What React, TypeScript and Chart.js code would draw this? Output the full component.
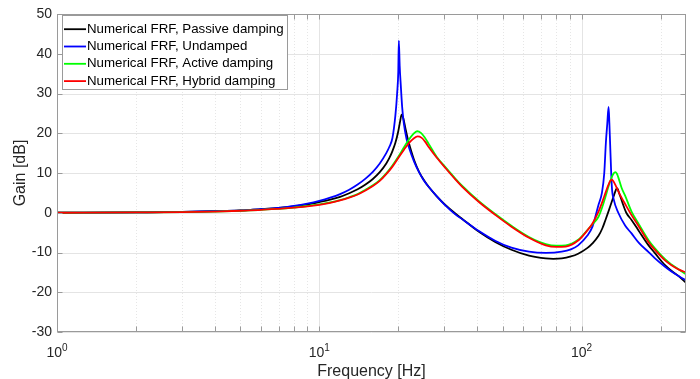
import React, { useEffect, useRef } from 'react';
import { Chart, registerables } from 'chart.js';

Chart.register(...registerables);

const FONT = "'Liberation Sans', Arial, Helvetica, sans-serif";
const TEXT_COLOR = '#262626';
const AXIS_COLOR = '#9a9a9a';

const seriesLabels = [
  'Numerical FRF, Passive damping',
  'Numerical FRF, Undamped',
  'Numerical FRF, Active damping',
  'Numerical FRF, Hybrid damping',
];
const seriesColors = ['#000000', '#0000ff', '#00ff00', '#ff0000'];

const passiveFreq = [1, 2, 3, 4, 5, 6, 7, 8, 9, 10,
  11, 12, 13, 14, 15, 16, 17, 18, 18.5, 19,
  19.5, 20, 20.3, 20.6, 20.9, 21.3, 21.7, 22.2, 23, 24,
  25, 26.2, 28, 30.3, 33, 35, 40.6, 47, 54, 63,
  73, 78, 84, 91, 97, 105, 110, 116, 120, 123,
  127, 130, 133, 135, 136.3, 137.5, 139, 141, 144, 148,
  155, 165, 180, 190, 208, 220, 235, 250];
const passiveGain = [0, 0.1, 0.2, 0.4, 0.6, 0.9, 1.2, 1.6, 2.1, 2.7,
  3.3, 4.0, 4.9, 5.9, 7.1, 8.5, 10.2, 12.4, 13.8, 15.5,
  17.6, 20.5, 22.8, 24.7, 23.8, 21.2, 18.8, 16.4, 13.2, 10.3,
  8.3, 6.4, 4.2, 1.9, -0.2, -1.5, -4.8, -7.4, -9.3, -10.8,
  -11.5, -11.6, -11.5, -11.0, -10.3, -8.9, -7.7, -5.8, -3.9, -2.0,
  0.6, 2.6, 4.5, 5.7, 6.2, 5.9, 4.9, 3.8, 2.0, 0.0,
  -1.8, -4.5, -8.2, -10.1, -13.2, -14.6, -16.0, -17.6];

const undampedFreq = [1, 2, 3, 4, 5, 6, 7, 8, 9, 10,
  11, 12, 13, 14, 15, 16, 17, 18, 18.5, 19,
  19.5, 19.8, 20.0, 20.1, 20.25, 20.45, 20.7, 21, 21.5, 22,
  23, 24, 25, 26.2, 28, 30.3, 33, 35, 40.6, 47,
  54, 63, 73, 84, 91, 97, 105, 110, 116, 119.5,
  122, 123.7, 125.3, 126.7, 127.6, 128.5, 130.4, 132.6, 138, 146.5,
  155, 165, 180, 190, 208, 220, 235, 250];
const undampedGain = [0, 0.1, 0.2, 0.4, 0.6, 0.9, 1.2, 1.7, 2.3, 3.0,
  3.8, 4.7, 5.8, 7.1, 8.6, 10.3, 12.4, 15.0, 16.6, 18.8,
  24.5, 30, 35.5, 43.3, 37, 32, 26.5, 22.5, 18.6, 16.3,
  12.8, 10.2, 8.2, 6.4, 4.2, 1.8, -0.4, -1.6, -4.6, -7.1,
  -8.8, -9.8, -10.1, -9.8, -9.2, -8.2, -5.8, -3.5, 2.0, 5.0,
  10, 17.5, 22.5, 26.6, 22.5, 17, 6.5, 3.3, 0.0, -3.2,
  -5.2, -7.5, -9.9, -11.4, -13.6, -14.8, -16.0, -17.0];

const activeFreq = [1, 2, 3, 4, 5, 6, 7, 8, 9, 10,
  11, 12, 13, 14, 15, 16, 17, 18, 19, 20,
  21, 22, 22.8, 23.6, 24.4, 25.2, 26.2, 28, 30.3, 33,
  35, 40.6, 47, 54, 63, 73, 80, 87, 97, 105,
  110, 116, 120, 123, 127, 130, 132.5, 134.4, 136.3, 138,
  142, 146.5, 155, 165, 180, 190, 208, 220, 235, 250];
const activeGain = [0, 0.1, 0.15, 0.3, 0.5, 0.7, 1.0, 1.3, 1.7, 2.1,
  2.6, 3.2, 3.9, 4.7, 5.8, 6.9, 8.2, 9.9, 11.9, 14.1,
  16.4, 18.5, 19.8, 20.5, 20.1, 19.0, 17.2, 14.1, 11.4, 8.6,
  6.8, 2.9, -0.4, -3.3, -6.1, -7.9, -8.3, -8.2, -6.8, -4.4,
  -2.9, -1.0, 1.5, 3.8, 6.9, 8.8, 9.9, 10.2, 9.8, 8.9,
  6.3, 4.3, 0.3, -2.8, -6.9, -8.9, -11.7, -13.0, -14.3, -15.5];

const hybridFreq = [1, 2, 3, 4, 5, 6, 7, 8, 9, 10,
  11, 12, 13, 14, 15, 16, 17, 18, 19, 20,
  21, 22, 22.9, 23.7, 24.5, 25.3, 26.2, 28, 30.3, 33,
  35, 40.6, 47, 54, 63, 73, 80, 87, 97, 105,
  110, 116, 120, 123, 126.5, 128.5, 130.3, 132, 134, 138,
  142, 146.5, 155, 165, 180, 190, 208, 220, 235, 250];
const hybridGain = [0, 0.1, 0.15, 0.3, 0.5, 0.7, 1.0, 1.3, 1.6, 2.0,
  2.5, 3.1, 3.8, 4.6, 5.6, 6.7, 8.0, 9.7, 11.6, 13.8,
  15.8, 17.6, 18.7, 19.2, 18.9, 17.9, 16.4, 13.9, 11.2, 8.4,
  6.6, 2.7, -0.6, -3.5, -6.3, -8.2, -8.6, -8.5, -7.0, -4.5,
  -2.7, 0.3, 2.8, 4.8, 7.0, 8.0, 8.3, 8.0, 7.2, 5.4,
  3.8, 2.2, -0.6, -3.4, -7.4, -9.3, -12.0, -13.2, -14.3, -15.0];

const yTicks = [-30, -20, -10, 0, 10, 20, 30, 40, 50];
const xDecades = [1, 10, 100];
const xMinor = [2, 3, 4, 5, 6, 7, 8, 9, 20, 30, 40, 50, 60, 70, 80, 90, 200];

const matlabAxes = {
  id: 'matlabAxes',
  beforeDatasetsDraw(chart: any) {
    const { ctx, chartArea: a } = chart;
    const xs = chart.scales.x;
    const ys = chart.scales.y;
    ctx.save();
    ctx.lineWidth = 1;
    ctx.strokeStyle = '#e6e6e6';
    ctx.setLineDash([1, 2]);
    ctx.beginPath();
    for (const v of xMinor) {
      const p = Math.round(xs.getPixelForValue(v)) + 0.5;
      ctx.moveTo(p, a.top);
      ctx.lineTo(p, a.bottom);
    }
    ctx.stroke();
    ctx.setLineDash([]);
    ctx.strokeStyle = '#e4e4e4';
    ctx.beginPath();
    for (const v of xDecades) {
      const p = Math.round(xs.getPixelForValue(v)) + 0.5;
      ctx.moveTo(p, a.top);
      ctx.lineTo(p, a.bottom);
    }
    for (const v of yTicks) {
      const p = Math.round(ys.getPixelForValue(v)) + 0.5;
      ctx.moveTo(a.left, p);
      ctx.lineTo(a.right, p);
    }
    ctx.stroke();
    ctx.restore();
  },
  afterDatasetsDraw(chart: any) {
    const { ctx, chartArea: a } = chart;
    const xs = chart.scales.x;
    const ys = chart.scales.y;
    const L = Math.round(a.left) + 0.5;
    const R = Math.round(a.right) - 0.5;
    const T = Math.round(a.top) + 0.5;
    const B = Math.round(a.bottom) - 0.5;
    ctx.save();
    ctx.lineWidth = 1;
    ctx.strokeStyle = AXIS_COLOR;
    ctx.strokeRect(L, T, R - L, B - T);
    const tl = 5;
    ctx.beginPath();
    for (const v of yTicks) {
      const p = Math.round(ys.getPixelForValue(v)) + 0.5;
      ctx.moveTo(L, p); ctx.lineTo(L + tl, p);
      ctx.moveTo(R, p); ctx.lineTo(R - tl, p);
    }
    for (const v of [...xDecades, ...xMinor]) {
      const p = Math.round(xs.getPixelForValue(v)) + 0.5;
      ctx.moveTo(p, B); ctx.lineTo(p, B - tl);
      ctx.moveTo(p, T); ctx.lineTo(p, T + tl);
    }
    ctx.stroke();

    // x tick labels with superscript exponents
    ctx.fillStyle = TEXT_COLOR;
    ctx.textAlign = 'left';
    ctx.textBaseline = 'alphabetic';
    for (const v of xDecades) {
      const e = String(Math.round(Math.log10(v)));
      ctx.font = `14px ${FONT}`;
      const wb = ctx.measureText('10').width;
      ctx.font = `10px ${FONT}`;
      const we = ctx.measureText(e).width;
      const cx = xs.getPixelForValue(v);
      const x0 = cx - (wb + we) / 2;
      ctx.font = `14px ${FONT}`;
      ctx.fillText('10', x0, a.bottom + 25);
      ctx.font = `10px ${FONT}`;
      ctx.fillText(e, x0 + wb, a.bottom + 19);
    }

    // legend
    const bx = Math.round(a.left) + 5.5;
    const by = Math.round(a.top) + 1.5;
    const bw = 225;
    const bh = 74;
    ctx.fillStyle = '#ffffff';
    ctx.fillRect(bx, by, bw, bh);
    ctx.strokeStyle = AXIS_COLOR;
    ctx.lineWidth = 1;
    ctx.strokeRect(bx, by, bw, bh);
    ctx.font = `13.3px ${FONT}`;
    ctx.textBaseline = 'middle';
    chart.data.datasets.forEach((ds: any, i: number) => {
      const y = a.top + 15.2 + i * 17.3;
      ctx.strokeStyle = ds.borderColor;
      ctx.lineWidth = 1.8;
      ctx.beginPath();
      ctx.moveTo(a.left + 7, y);
      ctx.lineTo(a.left + 29, y);
      ctx.stroke();
      ctx.fillStyle = '#000000';
      ctx.fillText(ds.label, a.left + 30, y);
    });
    ctx.restore();
  },
};

export default function App() {
  const ref = useRef<HTMLCanvasElement>(null);
  useEffect(() => {
    const canvas = ref.current;
    if (!canvas) return;
    const mk = (f: number[], g: number[]) => f.map((x, i) => ({ x, y: g[i] }));
    const freqs = [passiveFreq, undampedFreq, activeFreq, hybridFreq];
    const gains = [passiveGain, undampedGain, activeGain, hybridGain];
    const chart = new Chart(canvas, {
      type: 'line',
      data: {
        datasets: seriesLabels.map((label, i) => ({
          label,
          data: mk(freqs[i], gains[i]),
          borderColor: seriesColors[i],
          backgroundColor: seriesColors[i],
          borderWidth: 1.8,
          pointRadius: 0,
          fill: false,
          cubicInterpolationMode: 'monotone' as const,
          order: 4 - i,
        })),
      },
      options: {
        responsive: false,
        animation: false,
        devicePixelRatio: 1,
        events: [],
        layout: { padding: { top: 14, right: 14, left: 0, bottom: 0 } },
        plugins: { legend: { display: false }, tooltip: { enabled: false } },
        scales: {
          x: {
            type: 'logarithmic',
            min: 1,
            max: 250,
            grid: { display: false, drawTicks: false, tickLength: 0 },
            border: { display: false },
            ticks: { display: false },
            title: {
              display: true,
              text: 'Frequency [Hz]',
              color: TEXT_COLOR,
              font: { family: FONT, size: 16 },
              padding: { top: 0, bottom: -2 },
            },
            afterFit: (s: any) => { s.height = 47; },
          },
          y: {
            type: 'linear',
            min: -30,
            max: 50,
            grid: { display: false, drawTicks: false, tickLength: 0 },
            border: { display: false },
            ticks: {
              stepSize: 10,
              color: TEXT_COLOR,
              font: { family: FONT, size: 14 },
              padding: 5,
            },
            title: {
              display: true,
              text: 'Gain [dB]',
              color: TEXT_COLOR,
              font: { family: FONT, size: 16 },
              padding: { top: 11, bottom: 0 },
            },
            afterFit: (s: any) => { s.width = 57; },
          },
        },
      } as any,
      plugins: [matlabAxes],
    });
    return () => chart.destroy();
  }, []);
  return (
    <div style={{ position: 'fixed', left: 0, top: 0, width: 700, height: 379, background: '#ffffff' }}>
      <canvas ref={ref} width={700} height={379} style={{ display: 'block' }} />
    </div>
  );
}
